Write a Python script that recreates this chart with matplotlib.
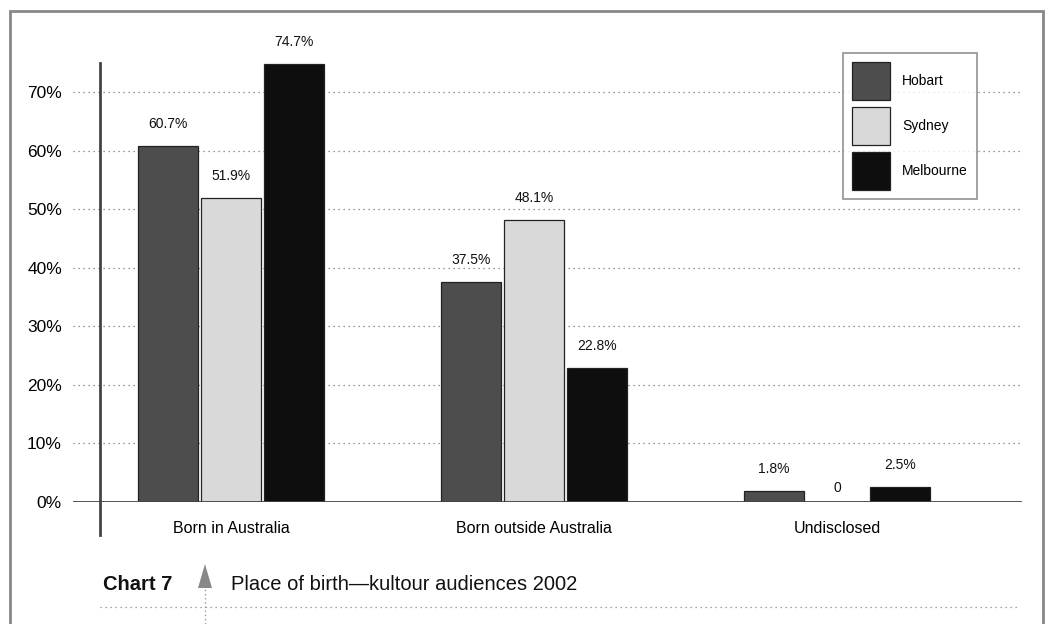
import matplotlib
matplotlib.use("Agg")
import matplotlib.pyplot as plt
from matplotlib.patches import Rectangle, Polygon
from matplotlib.lines import Line2D
import numpy as np

categories = ["Born in Australia", "Born outside Australia", "Undisclosed"]
series_names = ["Hobart", "Sydney", "Melbourne"]
hobart = [60.7, 37.5, 1.8]
sydney = [51.9, 48.1, 0.0]
melbourne = [74.7, 22.8, 2.5]
yticks = [0, 10, 20, 30, 40, 50, 60, 70]
ytick_labels = ["0%", "10%", "20%", "30%", "40%", "50%", "60%", "70%"]
colors = ["#4d4d4d", "#d9d9d9", "#0e0e0e"]

plt.rcParams['font.family'] = ['Liberation Sans Narrow', 'Liberation Sans', 'DejaVu Sans']

W, H = 1050, 624
fig = plt.figure(figsize=(W / 100, H / 100), dpi=100)

def fx(px):
    return px / W

def fy(py):
    return 1 - py / H

ax_left, ax_right = 73, 1022
ax_bottom, ax_top = 502, 40
ax = fig.add_axes([fx(ax_left), fy(ax_bottom), fx(ax_right) - fx(ax_left), fy(ax_top) - fy(ax_bottom)])

px_per_pct = (502 - 92) / 70.0
ax.set_ylim(0, (ax_bottom - ax_top) / px_per_pct)
group_px = 303.0
ax.set_xlim((ax_left - 231) / group_px, (ax_right - 231) / group_px)

x = np.arange(len(categories))
width = 60 / group_px
step = 63 / group_px
series = [hobart, sydney, melbourne]
for i, (vals, name, c) in enumerate(zip(series, series_names, colors)):
    pos = x + (i - 1) * step
    ax.bar(pos, vals, width=width, color=c, edgecolor="#222222", linewidth=0.9,
           label=name, zorder=3)
    for xp, v in zip(pos, vals):
        lab = f"{v}%" if v != 0 else "0"
        off = 16 if v != 0 else 10
        ax.annotate(lab, (xp, v), xytext=(0, off), textcoords="offset points",
                    ha="center", va="center", fontsize=10, color="#111111", zorder=4)

# gridlines
for t in yticks[1:]:
    ax.axhline(t, color="#777777", linestyle=(0, (1, 3)), linewidth=0.9, zorder=1)
ax.axhline(0, color="#444444", linewidth=2, zorder=5)

for s in ax.spines.values():
    s.set_visible(False)
ax.set_yticks(yticks)
ax.set_yticklabels(ytick_labels, fontsize=12.5)
ax.tick_params(axis="y", length=0, pad=8)
ax.set_xticks(x)
ax.set_xticklabels(categories, fontsize=11.5)
ax.tick_params(axis="x", length=0, pad=14)

# y axis vertical line (extends below axis)
fig.add_artist(Line2D([fx(100), fx(100)], [fy(535), fy(63)], color="#444444", linewidth=2))

# legend
leg = ax.legend(loc="upper left",
                bbox_to_anchor=((843 - ax_left) / (ax_right - ax_left), 1 - (53 - ax_top) / (ax_bottom - ax_top)),
                fontsize=10, frameon=True, fancybox=False, edgecolor="#777777",
                handlelength=2.75, handleheight=3.85, labelspacing=0.5, borderpad=0.65,
                handletextpad=0.85, borderaxespad=0)
leg.get_frame().set_linewidth(1.2)
for p in leg.get_patches():
    p.set_edgecolor("#222222")

# border
fig.add_artist(Rectangle((fx(10), fy(640)), fx(1043) - fx(10), fy(11) - fy(640),
                         fill=False, edgecolor="#888888", linewidth=2))

# caption
fig.text(fx(103), fy(584), "Chart 7", fontsize=14.5, fontweight="bold", va="center", ha="left", color="#111111")
fig.text(fx(231), fy(584), "Place of birth\u2014kultour audiences 2002", fontsize=14.5, va="center", ha="left",
         color="#111111", family=['Liberation Sans', 'DejaVu Sans'])
fig.add_artist(Line2D([fx(205), fx(205)], [fy(624), fy(588)], color="#999999", linewidth=1, linestyle=(0, (1, 2))))
fig.add_artist(Polygon([[fx(205), fy(564)], [fx(198), fy(588)], [fx(212), fy(588)]], closed=True,
                       facecolor="#888888", edgecolor="none", transform=fig.transFigure))
fig.add_artist(Line2D([fx(100), fx(1020)], [fy(607), fy(607)], color="#888888", linewidth=0.9, linestyle=(0, (1, 3))))

fig.savefig("out.png", dpi=100)
